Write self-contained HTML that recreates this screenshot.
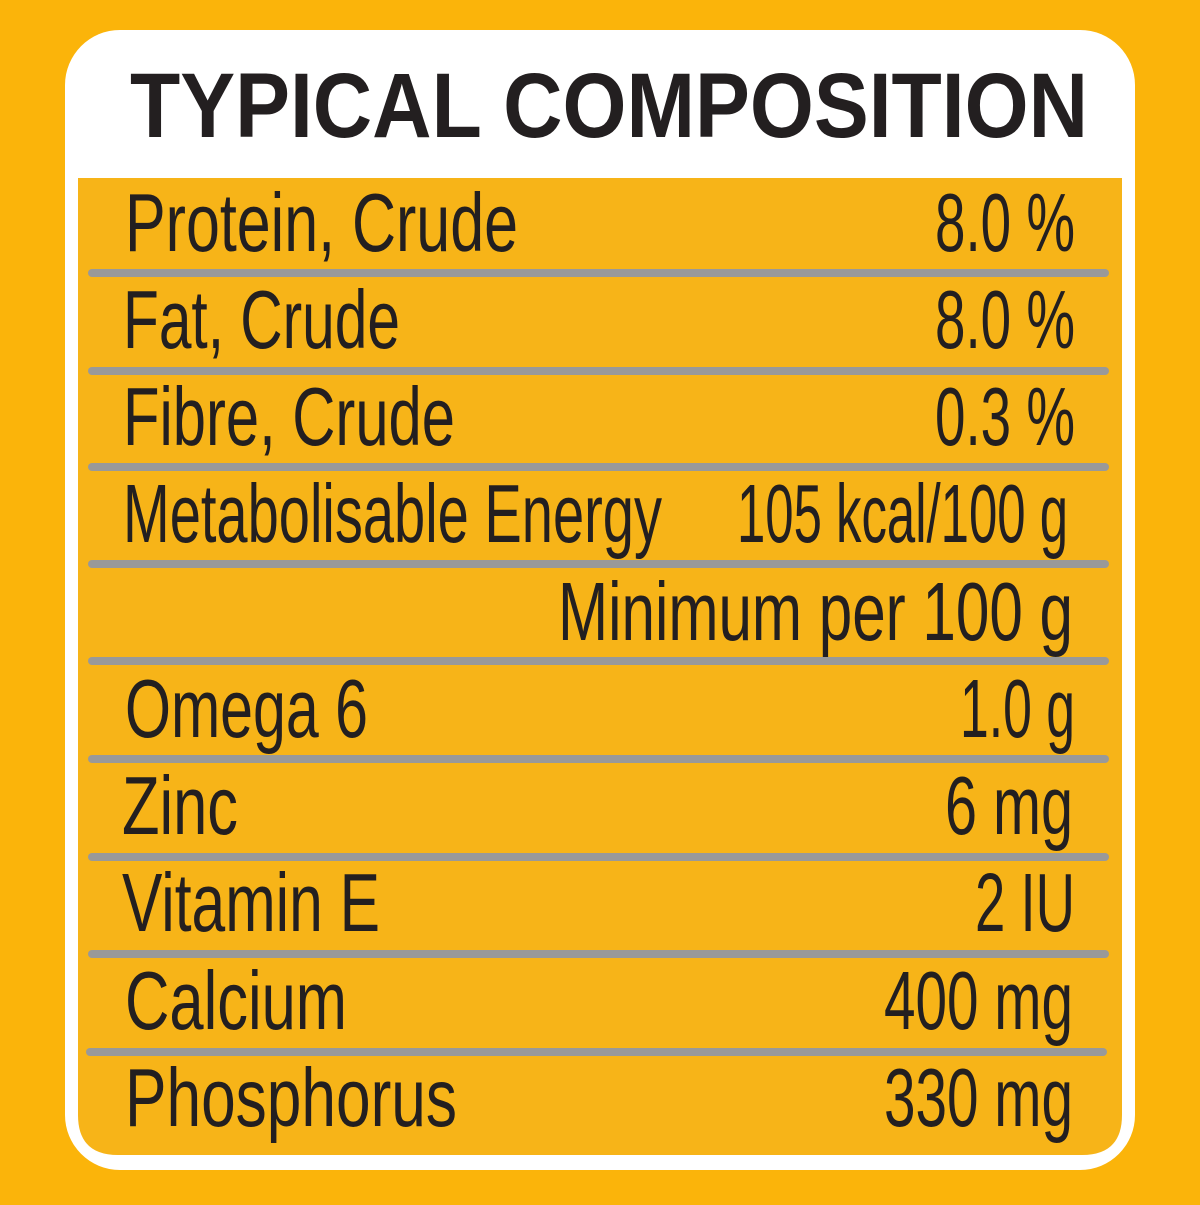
<!DOCTYPE html>
<html><head><style>html,body{margin:0;padding:0;background:#FBB40A}</style></head>
<body>
<svg width="1200" height="1200" viewBox="0 0 1200 1200" xmlns="http://www.w3.org/2000/svg">
<rect width="1200" height="1200" fill="#FBB40A"/>
<rect x="65" y="30" width="1070" height="1140" rx="55" fill="#fff"/>
<path d="M78 178 H1122 V1115 Q1122 1155 1082 1155 H118 Q78 1155 78 1115 Z" fill="#F7B418"/>
<text x="130" y="137" font-family="Liberation Sans, sans-serif" font-weight="bold" font-size="92" fill="#231f20" textLength="958" lengthAdjust="spacingAndGlyphs">TYPICAL COMPOSITION</text>
<g stroke="#999" stroke-width="8" stroke-linecap="round">
<line x1="92" y1="273" x2="1105" y2="273"/>
<line x1="92" y1="371" x2="1105" y2="371"/>
<line x1="92" y1="467" x2="1105" y2="467"/>
<line x1="92" y1="564" x2="1105" y2="564"/>
<line x1="92" y1="661" x2="1105" y2="661"/>
<line x1="92" y1="759" x2="1105" y2="759"/>
<line x1="92" y1="857" x2="1105" y2="857"/>
<line x1="92" y1="954" x2="1105" y2="954"/>
<line x1="90" y1="1052" x2="1103" y2="1052"/>
</g>
<g font-family="Liberation Sans, sans-serif" font-size="83" fill="#231f20" lengthAdjust="spacingAndGlyphs">
<text x="125" y="251" textLength="393" lengthAdjust="spacingAndGlyphs">Protein, Crude</text>
<text x="123" y="348" textLength="277" lengthAdjust="spacingAndGlyphs">Fat, Crude</text>
<text x="123" y="445" textLength="332" lengthAdjust="spacingAndGlyphs">Fibre, Crude</text>
<text x="123" y="542" textLength="539" lengthAdjust="spacingAndGlyphs">Metabolisable Energy</text>
<text x="125" y="737" textLength="243" lengthAdjust="spacingAndGlyphs">Omega 6</text>
<text x="122" y="834" textLength="116" lengthAdjust="spacingAndGlyphs">Zinc</text>
<text x="122" y="931" textLength="258" lengthAdjust="spacingAndGlyphs">Vitamin E</text>
<text x="125" y="1029" textLength="222" lengthAdjust="spacingAndGlyphs">Calcium</text>
<text x="125" y="1126" textLength="332" lengthAdjust="spacingAndGlyphs">Phosphorus</text>
<text x="935" y="251" textLength="140" lengthAdjust="spacingAndGlyphs">8.0 %</text>
<text x="935" y="348" textLength="140" lengthAdjust="spacingAndGlyphs">8.0 %</text>
<text x="935" y="445" textLength="140" lengthAdjust="spacingAndGlyphs">0.3 %</text>
<text x="737" y="542" textLength="331" lengthAdjust="spacingAndGlyphs">105 kcal/100 g</text>
<text x="558" y="640" textLength="515" lengthAdjust="spacingAndGlyphs">Minimum per 100 g</text>
<text x="960" y="737" textLength="115" lengthAdjust="spacingAndGlyphs">1.0 g</text>
<text x="945" y="834" textLength="128" lengthAdjust="spacingAndGlyphs">6 mg</text>
<text x="975" y="931" textLength="100" lengthAdjust="spacingAndGlyphs">2 IU</text>
<text x="884" y="1029" textLength="189" lengthAdjust="spacingAndGlyphs">400 mg</text>
<text x="884" y="1126" textLength="189" lengthAdjust="spacingAndGlyphs">330 mg</text>
</g>
</svg>
</body></html>
